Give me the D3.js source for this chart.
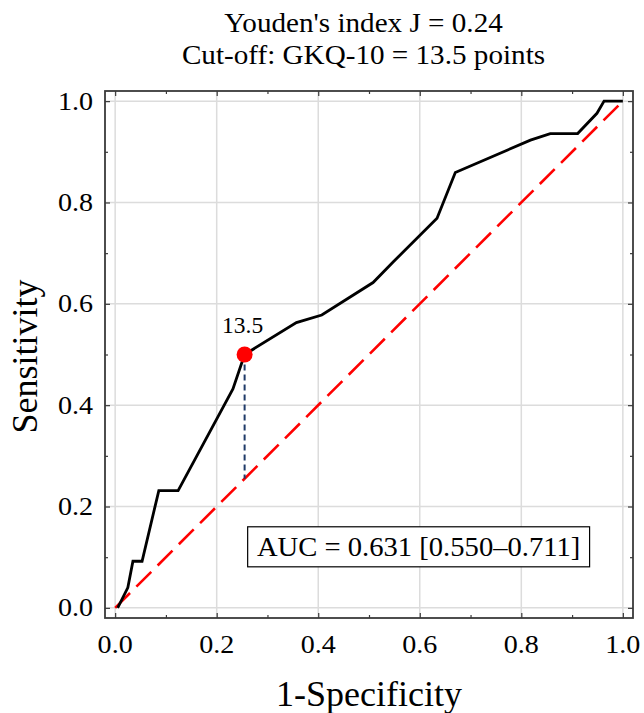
<!DOCTYPE html>
<html>
<head>
<meta charset="utf-8">
<script src="https://cdn.jsdelivr.net/npm/d3@7"></script>
<style>
    html, body { margin: 0; padding: 0; background: #ffffff; }
    svg { display: block; }
</style>
</head>
<body>
<div id="roc"></div>
<script>
// ROC curve points: false positive rate (1-Specificity) and sensitivity
var fpr = [0.005, 0.025, 0.035, 0.053, 0.086, 0.124, 0.232, 0.255, 0.357, 0.407,
           0.508, 0.548, 0.634, 0.670, 0.818, 0.857, 0.911, 0.949, 0.963, 1.0];
var tpr = [0.0, 0.04, 0.092, 0.092, 0.2315, 0.2315, 0.432, 0.5, 0.563, 0.578,
           0.642, 0.683, 0.769, 0.859, 0.923, 0.936, 0.936, 0.976, 1.0, 1.0];

// Optimal cut-off (Youden) point
var cutFpr = 0.255,
    cutTpr = 0.5,
    cutLabel = "13.5";

// Axis ticks
var majorTicks = [0, 0.2, 0.4, 0.6, 0.8, 1.0],
    minorTicks = [0.1, 0.3, 0.5, 0.7, 0.9];

var titleLines = ["Youden's index J = 0.24", "Cut-off: GKQ-10 = 13.5 points"],
    xTitle = "1-Specificity",
    yTitle = "Sensitivity",
    aucText = "AUC = 0.631 [0.550\u20130.711]";

var rocChart = function () {

    var exports = {},
        svg = null,
        width = 644,
        height = 713,
        // plot frame in pixels
        frame = { left: 105, right: 633, top: 91, bottom: 618 },
        pad = 0.02,
        serif = "'Liberation Serif', 'Times New Roman', Times, serif",
        gridColour = '#dcdcdc',
        frameColour = '#3a3a3a',
        navy = '#1f3a68';

    var x = d3.scaleLinear().domain([-pad, 1 + pad]).range([frame.left, frame.right]),
        y = d3.scaleLinear().domain([-pad, 1 + pad]).range([frame.bottom, frame.top]);

    // serif text with a slight horizontal stretch to match the original glyphs
    var addText = function (g, str, px, py, size, sx, anchor) {
        return g.append("text")
            .attr("transform", "translate(" + px + "," + py + ") scale(" + sx + ",1)")
            .attr("text-anchor", anchor || "middle")
            .attr("font-family", serif)
            .attr("font-size", size)
            .attr("fill", "#000")
            .text(str);
    };

    exports.draw = function () {
        svg = d3.select("#roc").append("svg")
            .attr("width", width)
            .attr("height", height);

        // grid lines
        var grid = svg.append("g");
        grid.selectAll("line.vx")
            .data(majorTicks)
            .enter().append("line")
            .attr("x1", function (d) { return x(d); })
            .attr("x2", function (d) { return x(d); })
            .attr("y1", frame.top)
            .attr("y2", frame.bottom)
            .style("stroke", gridColour)
            .style("stroke-width", 1.5);
        grid.selectAll("line.hy")
            .data(majorTicks)
            .enter().append("line")
            .attr("y1", function (d) { return y(d); })
            .attr("y2", function (d) { return y(d); })
            .attr("x1", frame.left)
            .attr("x2", frame.right)
            .style("stroke", gridColour)
            .style("stroke-width", 1.5);

        // axes with inward ticks on all four sides
        var major = 5, minor = 3;
        var addAxis = function (axisFn, scale, ticks, len, tr) {
            svg.append("g")
                .attr("transform", tr)
                .call(axisFn(scale).tickValues(ticks).tickSize(len).tickFormat(""))
                .call(function (g) {
                    g.select(".domain").remove();
                    g.selectAll("line").style("stroke", frameColour).style("stroke-width", 1.2);
                });
        };
        addAxis(d3.axisTop, x, majorTicks, major, "translate(0," + frame.bottom + ")");
        addAxis(d3.axisTop, x, minorTicks, minor, "translate(0," + frame.bottom + ")");
        addAxis(d3.axisBottom, x, majorTicks, major, "translate(0," + frame.top + ")");
        addAxis(d3.axisBottom, x, minorTicks, minor, "translate(0," + frame.top + ")");
        addAxis(d3.axisRight, y, majorTicks, major, "translate(" + frame.left + ",0)");
        addAxis(d3.axisRight, y, minorTicks, minor, "translate(" + frame.left + ",0)");
        addAxis(d3.axisLeft, y, majorTicks, major, "translate(" + frame.right + ",0)");
        addAxis(d3.axisLeft, y, minorTicks, minor, "translate(" + frame.right + ",0)");

        // tick labels
        var fmt = d3.format(".1f");
        majorTicks.forEach(function (t) {
            addText(svg, fmt(t), x(t), frame.bottom + 35, 26, 1.08, "middle");
            addText(svg, fmt(t), frame.left - 12, y(t) + 8.5, 26, 1.08, "end");
        });

        // chance diagonal
        svg.append("line")
            .attr("x1", x(0)).attr("y1", y(0))
            .attr("x2", x(1)).attr("y2", y(1))
            .style("stroke", "#ff0000")
            .style("stroke-width", 2.6)
            .style("stroke-dasharray", "21,9");

        // ROC curve
        var pts = fpr.map(function (d, i) { return [d, tpr[i]]; });
        var line = d3.line()
            .x(function (d) { return x(d[0]); })
            .y(function (d) { return y(d[1]); });
        svg.append("path")
            .datum(pts)
            .attr("d", line)
            .style("fill", "none")
            .style("stroke", "#000")
            .style("stroke-width", 2.8)
            .style("stroke-linejoin", "miter");

        // Youden distance line from diagonal to the cut-off point
        svg.append("line")
            .attr("x1", x(cutFpr)).attr("y1", y(cutTpr))
            .attr("x2", x(cutFpr)).attr("y2", y(cutFpr))
            .style("stroke", navy)
            .style("stroke-width", 2)
            .style("stroke-dasharray", "6,4");

        svg.append("circle")
            .attr("cx", x(cutFpr))
            .attr("cy", y(cutTpr))
            .attr("r", 8)
            .style("fill", "#ff0000");

        addText(svg, cutLabel, x(cutFpr) - 2, y(cutTpr) - 22, 23.5, 1.0, "middle");

        // AUC box
        var bx0 = x(0.261), bx1 = x(0.9345), by0 = y(0.16), by1 = y(0.081);
        svg.append("rect")
            .attr("x", bx0).attr("y", by0)
            .attr("width", bx1 - bx0).attr("height", by1 - by0)
            .style("fill", "#fff")
            .style("stroke", "#000")
            .style("stroke-width", 1.2);
        addText(svg, aucText, (bx0 + bx1) / 2, by0 + 29.5, 27, 1.06, "middle");

        // frame
        svg.append("rect")
            .attr("x", frame.left).attr("y", frame.top)
            .attr("width", frame.right - frame.left)
            .attr("height", frame.bottom - frame.top)
            .style("fill", "none")
            .style("stroke", frameColour)
            .style("stroke-width", 1.8);

        // titles
        addText(svg, titleLines[0], 363.5, 31.5, 27.5, 1.06, "middle");
        addText(svg, titleLines[1], 363.5, 63.5, 27.5, 1.06, "middle");
        addText(svg, xTitle, 369, 706, 36, 1.0, "middle");
        svg.append("text")
            .attr("transform", "translate(37,356.5) rotate(-90)")
            .attr("text-anchor", "middle")
            .attr("font-family", serif)
            .attr("font-size", 36)
            .text(yTitle);

        return exports;
    };

    return exports;
};

rocChart().draw();
</script>
</body>
</html>
